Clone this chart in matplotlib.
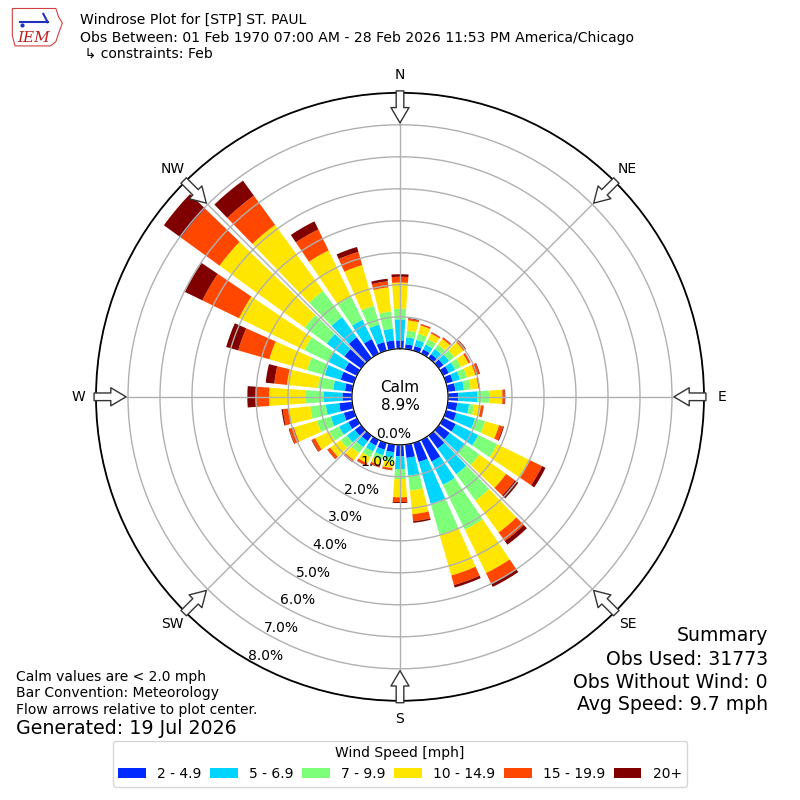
import numpy as np
import matplotlib
matplotlib.use('Agg')
import matplotlib.pyplot as plt
from matplotlib.patches import Polygon

# wind directions (deg, meteorological) and speed bins
directions = np.arange(0, 360, 10)
speed_labels = ['2 - 4.9', '5 - 6.9', '7 - 9.9', '10 - 14.9', '15 - 19.9', '20+']

# percent of all obs, per direction, one list per speed bin
spd_2_5 = [0.26, 0.15, 0.15, 0.15, 0.15, 0.18, 0.20, 0.22, 0.24, 0.32, 0.30, 0.33,
           0.44, 0.42, 0.50, 0.75, 0.62, 0.42, 0.36, 0.24, 0.22, 0.20, 0.22, 0.25,
           0.30, 0.33, 0.41, 0.30, 0.23, 0.43, 0.42, 0.65, 0.80, 0.51, 0.28, 0.27]
spd_5_7 = [0.66, 0.22, 0.20, 0.17, 0.20, 0.22, 0.22, 0.23, 0.27, 0.60, 0.37, 0.61,
           0.78, 0.61, 0.99, 0.81, 1.36, 0.56, 0.40, 0.18, 0.18, 0.20, 0.23, 0.30,
           0.32, 0.42, 0.42, 0.58, 0.37, 0.52, 0.56, 0.68, 0.78, 0.67, 0.57, 0.37]
spd_7_10 = [0.33, 0.21, 0.20, 0.18, 0.17, 0.20, 0.20, 0.23, 0.21, 0.36, 0.15, 0.33,
            0.66, 0.54, 1.02, 1.56, 1.00, 0.47, 0.31, 0.13, 0.15, 0.20, 0.23, 0.25,
            0.33, 0.45, 0.49, 0.56, 0.48, 0.57, 0.85, 0.85, 1.01, 0.80, 0.61, 0.54]
spd_10_15 = [0.82, 0.32, 0.27, 0.20, 0.22, 0.35, 0.26, 0.27, 0.24, 0.42, 0.22, 0.45,
             1.14, 1.03, 1.23, 1.51, 1.33, 0.74, 0.57, 0.19, 0.17, 0.22, 0.27, 0.40,
             0.50, 0.75, 0.69, 1.15, 0.97, 1.23, 2.27, 3.29, 2.55, 1.61, 1.32, 0.76]
spd_15_20 = [0.18, 0.05, 0.04, 0.04, 0.05, 0.08, 0.06, 0.13, 0.04, 0.07, 0.08, 0.13,
             0.42, 0.34, 0.33, 0.36, 0.31, 0.22, 0.15, 0.06, 0.07, 0.08, 0.07, 0.10,
             0.11, 0.15, 0.17, 0.42, 0.40, 1.01, 1.27, 1.49, 1.13, 0.73, 0.43, 0.19]
spd_20p = [0.08, 0.02, 0.01, 0.01, 0.01, 0.02, 0.01, 0.02, 0.01, 0.02, 0.01, 0.03,
           0.12, 0.13, 0.14, 0.12, 0.08, 0.05, 0.03, 0.01, 0.01, 0.01, 0.01, 0.01,
           0.02, 0.02, 0.04, 0.26, 0.27, 0.39, 0.61, 0.66, 0.58, 0.28, 0.16, 0.08]

calm_pct = 8.9
rticks = np.arange(0, 9)
compass = ['N', 'NE', 'E', 'SE', 'S', 'SW', 'W', 'NW']

bins = [spd_2_5, spd_5_7, spd_7_10, spd_10_15, spd_15_20, spd_20p]
colors = plt.cm.jet(np.arange(1, 7) / 6.0)

fig = plt.figure(figsize=(8, 8), dpi=100)
ax = fig.add_axes([0.12, 0.124, 0.76, 0.76], projection='polar')
ax.set_theta_zero_location('N')
ax.set_theta_direction(-1)
ax.set_rorigin(-1.5)
ax.set_ylim(0, 8)

theta = np.radians(directions)
width = np.radians(10) * 0.8
bottom = np.zeros(len(directions))
for vals, c, lab in zip(bins, colors, speed_labels):
    vals = np.array(vals)
    ax.bar(theta, vals, width=width, bottom=bottom, color=c, edgecolor='none',
           label=lab, zorder=1)
    bottom += vals

ax.set_xticks(np.radians(np.arange(0, 360, 45)))
ax.set_xticklabels([])
ax.set_yticks(rticks)
ax.set_yticklabels([])
ax.grid(True, color='#b0b0b0', lw=1)
ax.spines['polar'].set_linewidth(1.3)

# percent labels along the SSW line
for r in rticks:
    ax.annotate('%.1f%%' % r, xy=(np.radians(210), r), xytext=(0, -2),
                textcoords='offset points', ha='left', va='bottom', fontsize=10)

# compass labels and inward flow arrows
for i, name in enumerate(compass):
    t = np.radians(i * 45)
    ax.text(t, 8.56, name, ha='center', va='center', fontsize=10)
    ax.annotate('', xy=(t, 7.06), xytext=(t, 8.06), annotation_clip=False,
                arrowprops=dict(arrowstyle='simple,head_length=1.1,head_width=1.3,tail_width=0.55',
                                mutation_scale=10, fc='white', ec='#333333', lw=1,
                                shrinkA=0, shrinkB=0))

ax.text(0.5, 0.5, 'Calm\n%.1f%%' % calm_pct, transform=ax.transAxes,
        ha='center', va='center', fontsize=11, linespacing=1.25)

# header
fig.text(0.1, 0.975, 'Windrose Plot for [STP] ST. PAUL', fontsize=10.1, va='center')
fig.text(0.1, 0.9525, 'Obs Between: 01 Feb 1970 07:00 AM - 28 Feb 2026 11:53 PM America/Chicago',
         fontsize=10.1, va='center')
fig.text(0.1, 0.9325, ' \u21b3 constraints: Feb', fontsize=10.1, va='center')

# rough IEM logo
lax = fig.add_axes([0.012, 0.94, 0.068, 0.052])
lax.set_xlim(0, 1)
lax.set_ylim(0, 1)
lax.axis('off')
iowa = [(0.05, 0.95), (0.85, 0.95), (0.9, 0.75), (0.97, 0.6), (0.9, 0.35),
        (0.85, 0.15), (0.75, 0.05), (0.1, 0.05), (0.05, 0.3)]
lax.add_patch(Polygon(iowa, closed=True, fill=False, ec='#d04040', lw=0.8))
lax.plot([0.2, 0.7], [0.62, 0.62], color='#2030c0', lw=1.5)
lax.plot([0.7, 0.62], [0.62, 0.82], color='#2030c0', lw=1.5)
lax.plot([0.22], [0.55], 'o', color='#2030c0', ms=2)
lax.text(0.45, 0.25, 'IEM', color='#c02020', fontsize=11, family='DejaVu Serif',
         style='italic', ha='center', va='center')

# footer notes
fig.text(0.02, 0.15375, 'Calm values are < 2.0 mph', fontsize=10, va='center')
fig.text(0.02, 0.134, 'Bar Convention: Meteorology', fontsize=10, va='center')
fig.text(0.02, 0.1125, 'Flow arrows relative to plot center.', fontsize=10, va='center')
fig.text(0.02, 0.089, 'Generated: 19 Jul 2026', fontsize=13.7, va='center')

fig.text(0.96, 0.206, 'Summary', fontsize=13.6, ha='right', va='center')
fig.text(0.96, 0.176, 'Obs Used: 31773', fontsize=13.6, ha='right', va='center')
fig.text(0.96, 0.1475, 'Obs Without Wind: 0', fontsize=13.6, ha='right', va='center')
fig.text(0.96, 0.119, 'Avg Speed: 9.7 mph', fontsize=13.6, ha='right', va='center')

handles, labels = ax.get_legend_handles_labels()
fig.legend(handles, labels, loc='lower center', bbox_to_anchor=(0.5, 0.008), ncol=6,
           title='Wind Speed [mph]', fontsize=10, title_fontsize=10,
           handlelength=2, columnspacing=0.62)

fig.savefig('out.png', dpi=100)
